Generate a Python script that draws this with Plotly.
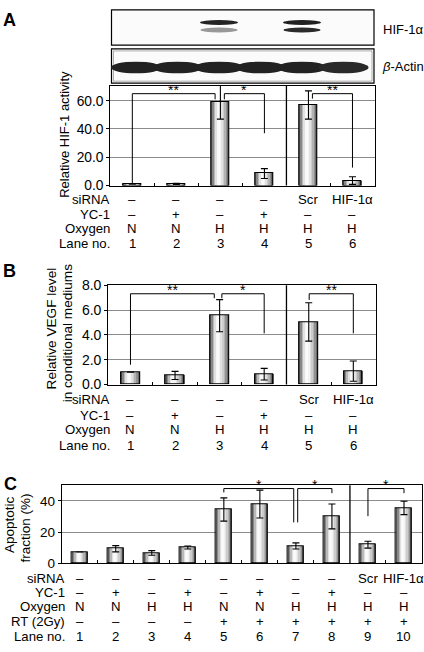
import plotly.graph_objects as go

FONT = "Liberation Sans, Arial, sans-serif"
W, H = 424, 652

# ---------------- data ----------------
lanes_ab = [1, 2, 3, 4, 5, 6]
hif_activity = [1.0, 1.2, 59.0, 8.5, 57.0, 3.5]
hif_activity_err = [0.0, 0.4, 12.0, 3.5, 10.0, 2.7]

vegf_level = [1.0, 0.73, 5.55, 0.83, 5.05, 1.08]
vegf_err = [0.0, 0.33, 1.3, 0.47, 1.55, 0.82]

lanes_c = [1, 2, 3, 4, 5, 6, 7, 8, 9, 10]
apoptotic = [7.1, 9.2, 6.5, 10.0, 34.5, 38.0, 11.0, 30.0, 11.8, 35.5]
apoptotic_err = [0.0, 2.0, 1.5, 1.0, 7.5, 9.0, 2.0, 8.0, 2.2, 4.3]

# table rows (A and B share the same layout)
row_names_ab = ["siRNA", "YC-1", "Oxygen", "Lane no."]
sirna_ab = ["–", "–", "–", "–", "Scr", "HIF-1α"]
yc1_ab = ["–", "+", "–", "+", "–", "–"]
oxygen_ab = ["N", "N", "H", "H", "H", "H"]
laneno_ab = ["1", "2", "3", "4", "5", "6"]

row_names_c = ["siRNA", "YC-1", "Oxygen", "RT (2Gy)", "Lane no."]
sirna_c = ["–", "–", "–", "–", "–", "–", "–", "–", "Scr", "HIF-1α"]
yc1_c = ["–", "+", "–", "+", "–", "+", "–", "+", "–", "–"]
oxygen_c = ["N", "N", "H", "H", "N", "N", "H", "H", "H", "H"]
rt_c = ["–", "–", "–", "–", "+", "+", "+", "+", "+", "+"]
laneno_c = ["1", "2", "3", "4", "5", "6", "7", "8", "9", "10"]

# y tick labels
yticks_a = [0, 20, 40, 60]
yticktext_a = ["0.0", "20.0", "40.0", "60.0"]
yticks_b = [0, 2, 4, 6, 8]
yticktext_b = ["0.0", "2.0", "4.0", "6.0", "8.0"]
yticks_c = [0, 20, 40]
yticktext_c = ["0", "20", "40"]

# western blot band intensities (0..1) per lane
blot_hif_upper = [0.0, 0.0, 0.95, 0.0, 0.97, 0.0]
blot_hif_lower = [0.0, 0.0, 0.45, 0.0, 0.92, 0.0]
blot_actin = [0.96, 0.96, 0.96, 0.96, 0.96, 0.93]

# significance brackets: (x_left, y_left_bottom, x_right, y_right_bottom, y_level, label)
brackets_a = [(1.0, 1.5, 2.88, 61.0, 65.0, "**"),
              (3.09, 61.0, 4.0, 37.0, 65.0, "*"),
              (5.09, 61.5, 6.0, 12.7, 65.0, "**")]
brackets_b = [(1.0, 1.6, 2.88, 6.96, 7.32, "**"),
              (3.05, 6.96, 4.0, 4.13, 7.32, "*"),
              (5.01, 6.82, 6.0, 4.13, 7.32, "**")]
brackets_c = [(5.0, 45.5, 6.94, 26.2, 48.0, "*"),
              (7.05, 26.2, 8.0, 45.0, 48.0, "*"),
              (9.0, 30.2, 10.0, 45.0, 48.0, "*")]

# ---------------- helpers ----------------
def px(x):
    return x / W


def py(y):
    return 1 - y / H


SHADE = [85, 135, 185, 225, 246, 250, 242, 225, 204, 178, 145, 105]
ROWFONT = 13.2

fig = go.Figure()


def add_bars(xs, ys, errs, xa, ya, width):
    n = len(SHADE)
    sw = width / n
    for k, g in enumerate(SHADE):
        fig.add_trace(go.Bar(
            x=xs, y=ys, width=sw * 1.2, offset=-width / 2 + k * sw,
            marker=dict(color=f"rgb({g},{g},{g})", line=dict(width=0)),
            xaxis=xa, yaxis=ya, showlegend=False, hoverinfo="skip"))
    fig.add_trace(go.Bar(
        x=xs, y=ys, width=width,
        marker=dict(color="rgba(0,0,0,0)", line=dict(color="black", width=1.1)),
        error_y=dict(type="data", array=errs, visible=True, color="black",
                     thickness=1.1, width=3.5),
        xaxis=xa, yaxis=ya, showlegend=False, hoverinfo="skip"))


add_bars(lanes_ab, hif_activity, hif_activity_err, "x", "y", 0.41)
add_bars(lanes_ab, vegf_level, vegf_err, "x2", "y2", 0.42)
add_bars(lanes_c, apoptotic, apoptotic_err, "x3", "y3", 0.44)

shapes = []
annotations = []


def xaxis_cfg(domain, n, bounds):
    return dict(domain=domain, range=[0.5, n + 0.5], showline=True, mirror=True,
                linecolor="black", linewidth=1, tickvals=bounds, ticks="inside",
                ticklen=3, tickcolor="black", showticklabels=False,
                showgrid=False, zeroline=False, fixedrange=True)


def yaxis_cfg(domain, top, tv, tt, anchor, size):
    return dict(domain=domain, range=[0, top], showline=True, mirror=True,
                linecolor="black", linewidth=1, tickvals=tv, ticktext=tt,
                ticks="outside", ticklen=3, tickcolor="black",
                tickfont=dict(family=FONT, size=size, color="black"),
                showgrid=True, gridcolor="#8c8c8c", gridwidth=1,
                zeroline=False, anchor=anchor, fixedrange=True)


layout_axes = dict(
    xaxis=xaxis_cfg([px(110.3), px(374.5)], 6, [1.5, 2.5, 3.5, 5.5]),
    yaxis=yaxis_cfg([py(182), py(80)], 70.4, yticks_a, yticktext_a, "x", 13.8),
    xaxis2=xaxis_cfg([px(108.2), px(375.6)], 6, [1.5, 2.5, 3.5, 5.5]),
    yaxis2=yaxis_cfg([py(386), py(284.3)], 8.0, yticks_b, yticktext_b, "x2", 14),
    xaxis3=xaxis_cfg([px(61.7), px(422)], 10, [1.5, 2.5, 3.5, 4.5, 5.5, 6.5, 7.5, 9.5]),
    yaxis3=yaxis_cfg([py(569), py(489.3)], 50.1, yticks_c, yticktext_c, "x3", 13.5),
)
layout_axes["xaxis"]["anchor"] = "y"
layout_axes["xaxis2"]["anchor"] = "y2"
layout_axes["xaxis3"]["anchor"] = "y3"

# separators
for xr, yr, xs in [("x", "y", 4.5), ("x2", "y2", 4.5), ("x3", "y3", 8.5)]:
    shapes.append(dict(type="line", xref=xr, yref=yr + " domain", x0=xs, x1=xs,
                       y0=0, y1=1, line=dict(color="black", width=1.3)))

# brackets
for xr, yr, brs in [("x", "y", brackets_a), ("x2", "y2", brackets_b), ("x3", "y3", brackets_c)]:
    for (x1, yb1, x2, yb2, yh, lab) in brs:
        shapes.append(dict(type="path", xref=xr, yref=yr,
                           path=f"M {x1},{yb1} L {x1},{yh} L {x2},{yh} L {x2},{yb2}",
                           line=dict(color="black", width=1)))
        annotations.append(dict(xref=xr, yref=yr, x=(x1 + x2) / 2, y=yh, text=lab,
                                showarrow=False, yanchor="bottom", yshift=-6,
                                font=dict(family=FONT, size=14, color="black")))

# table rows
def add_rows(xr, names, rows, ys, label_x):
    for name, vals, yy in zip(names, rows, ys):
        annotations.append(dict(xref="paper", yref="paper", x=px(label_x), y=py(yy),
                                text=name, showarrow=False, xanchor="right",
                                yanchor="middle",
                                font=dict(family=FONT, size=ROWFONT, color="black")))
        for i, v in enumerate(vals):
            annotations.append(dict(xref=xr, yref="paper", x=i + 1, y=py(yy), text=v,
                                    showarrow=False, xanchor="center", yanchor="middle",
                                    font=dict(family=FONT, size=ROWFONT, color="black")))


add_rows("x", row_names_ab, [sirna_ab, yc1_ab, oxygen_ab, laneno_ab],
         [196.7, 211.7, 226, 241.7], 112)
add_rows("x2", row_names_ab, [sirna_ab, yc1_ab, oxygen_ab, laneno_ab],
         [401.7, 417.3, 431.7, 448.3], 112)
add_rows("x3", row_names_c, [sirna_c, yc1_c, oxygen_c, rt_c, laneno_c],
         [585, 599.3, 614, 629, 644], 67)

# y-axis titles
def vtitle(text, x, y, size):
    annotations.append(dict(xref="paper", yref="paper", x=px(x), y=py(y), text=text,
                            textangle=-90, showarrow=False, xanchor="center",
                            yanchor="middle",
                            font=dict(family=FONT, size=size, color="black")))


vtitle("Relative HIF-1 activity", 65, 130, 13)
vtitle("Relative VEGF level", 51.5, 329, 13.6)
vtitle("in conditional mediums", 67.5, 334, 13.6)
vtitle("Apoptotic", 10, 530, 13.5)
vtitle("fraction (%)", 25.5, 533, 13.5)

# panel letters
for lab, x, y in [("A", 9, 12), ("B", 9.5, 270), ("C", 10, 488)]:
    annotations.append(dict(xref="paper", yref="paper", x=px(x), y=py(y), text=f"<b>{lab}</b>",
                            showarrow=False, xanchor="center", yanchor="middle",
                            font=dict(family=FONT, size=18, color="black")))

# western blots
BL, BR = 111.5, 374.0
PITCH = 41.5
FIRST = 136.0


def gray(v):
    g = int(round(255 - 230 * v))
    return f"rgb({g},{g},{g})"


for (y0, y1) in [(2, 38), (42, 77)]:
    shapes.append(dict(type="rect", xref="paper", yref="paper", x0=px(BL), x1=px(BR),
                       y0=py(y1), y1=py(y0), line=dict(color="black", width=1.2),
                       fillcolor="#fbfbfb", layer="below"))
shapes.append(dict(type="rect", xref="paper", yref="paper", x0=px(BL + 2), x1=px(BR - 2),
                   y0=py(75), y1=py(44), line=dict(color="#9a9a9a", width=0.8),
                   fillcolor="rgba(0,0,0,0)"))


def band(cx, cy, w, h, v):
    if v <= 0:
        return
    shapes.append(dict(type="circle", xref="paper", yref="paper",
                       x0=px(cx - w / 2), x1=px(cx + w / 2), y0=py(cy + h / 2), y1=py(cy - h / 2),
                       fillcolor=gray(v), line=dict(width=0)))


for i in range(6):
    cx = FIRST + PITCH * i
    band(cx, 61, 50, 12, blot_actin[i])
    band(cx, 14.8, 38, 5.0, blot_hif_upper[i])
    band(cx, 22.5, 37, 5.0, blot_hif_lower[i])

annotations.append(dict(xref="paper", yref="paper", x=px(381), y=py(22.5), text="HIF-1α",
                        showarrow=False, xanchor="left", yanchor="middle",
                        font=dict(family=FONT, size=13, color="black")))
annotations.append(dict(xref="paper", yref="paper", x=px(379.5), y=py(60), text="<i>β</i>-Actin",
                        showarrow=False, xanchor="left", yanchor="middle",
                        font=dict(family=FONT, size=13, color="black")))

fig.update_layout(
    width=W, height=H, margin=dict(l=0, r=0, t=0, b=0),
    paper_bgcolor="white", plot_bgcolor="white",
    barmode="overlay", bargap=0, showlegend=False,
    font=dict(family=FONT, color="black"),
    shapes=shapes, annotations=annotations,
    **layout_axes,
)

fig.write_html("out.html", config={"displayModeBar": False},
               post_script="document.body.style.margin='0';document.body.style.overflow='hidden';")
